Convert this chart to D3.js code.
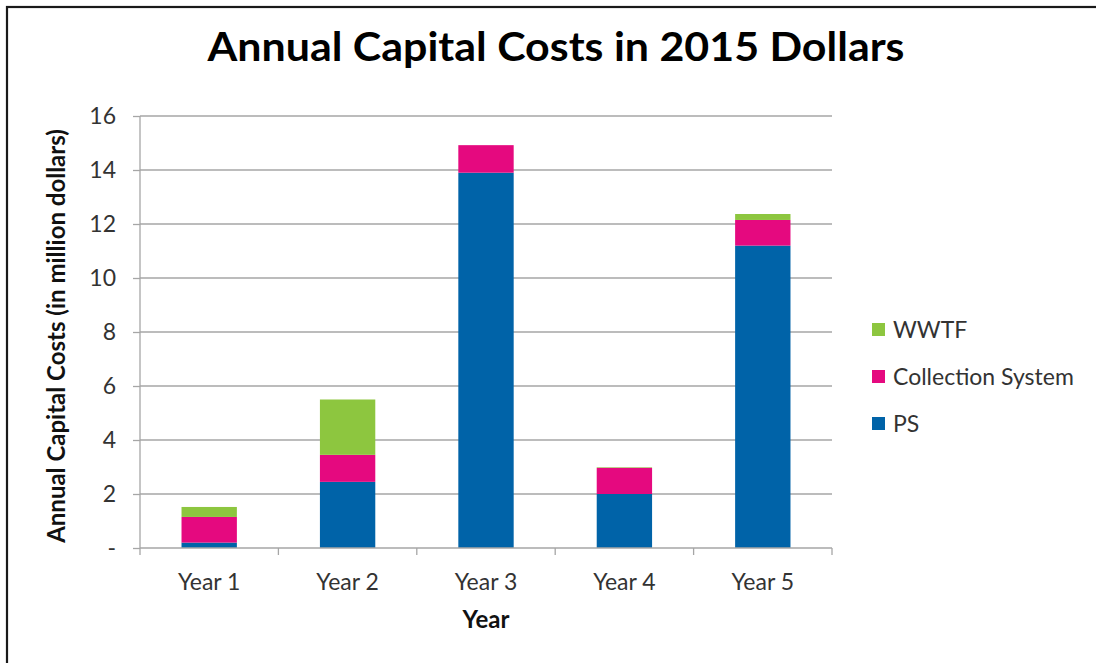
<!DOCTYPE html>
<html>
<head>
<meta charset="utf-8">
<script src="https://cdn.jsdelivr.net/npm/d3@7"></script>
<style>
  html, body { margin: 0; padding: 0; background: #fff; }
  svg { display: block; }
</style>
</head>
<body>
<svg id="chart" width="1096" height="663"></svg>
<script>
// Annual capital costs (million dollars, 2015 dollars), stacked by component
const years = ["Year 1", "Year 2", "Year 3", "Year 4", "Year 5"];
const psCosts = [0.2, 2.45, 13.9, 2.0, 11.2];
const collectionCosts = [0.95, 1.0, 1.02, 0.97, 0.95];
const wwtfCosts = [0.37, 2.05, 0.0, 0.02, 0.22];
const seriesNames = ["PS", "Collection System", "WWTF"];
const seriesColors = ["#0063A8", "#E5097F", "#8DC63F"];
const yTicks = [0, 2, 4, 6, 8, 10, 12, 14, 16];

const font = "Lato, 'Open Sans', sans-serif";
const svg = d3.select("#chart");

// outer frame
svg.append("rect")
  .attr("x", 7).attr("y", 7)
  .attr("width", 1200).attr("height", 800)
  .attr("fill", "none").attr("stroke", "#1a1a1a").attr("stroke-width", 2.2);

const margin = { left: 140, top: 116, right: 832, bottom: 548 };

const x = d3.scaleBand().domain(years)
  .range([margin.left, margin.right]).paddingInner(0.6).paddingOuter(0.3);
const y = d3.scaleLinear().domain([0, 16]).range([margin.bottom, margin.top]);

// gridlines
svg.append("g").selectAll("line").data(yTicks.slice(1)).join("line")
  .attr("x1", margin.left).attr("x2", margin.right)
  .attr("y1", d => y(d)).attr("y2", d => y(d))
  .attr("stroke", "#a6a6a6").attr("stroke-width", 1.3);

// stacked bars
const rows = years.map((yr, i) => ({ year: yr, "PS": psCosts[i], "Collection System": collectionCosts[i], "WWTF": wwtfCosts[i] }));
const stack = d3.stack().keys(seriesNames)(rows);
svg.append("g").selectAll("g").data(stack).join("g")
  .attr("fill", (d, i) => seriesColors[i])
  .selectAll("rect").data(d => d).join("rect")
  .attr("x", d => x(d.data.year))
  .attr("width", x.bandwidth())
  .attr("y", d => y(d[1]))
  .attr("height", d => y(d[0]) - y(d[1]));

// y axis
const yAxis = d3.axisLeft(y).tickValues(yTicks)
  .tickFormat(d => d === 0 ? "-" : d).tickSize(7).tickPadding(17);
const gy = svg.append("g").attr("transform", `translate(${margin.left},0)`).call(yAxis);
gy.select(".domain").attr("stroke", "#a6a6a6").attr("stroke-width", 1.3)
  .attr("d", `M0,${margin.top}V${margin.bottom}`);
gy.selectAll(".tick line").attr("stroke", "#a6a6a6").attr("stroke-width", 1.3);
gy.selectAll(".tick text").attr("font-family", font).attr("font-size", 23).attr("fill", "#333");

// x axis with ticks at category boundaries
const gx = svg.append("g").attr("transform", `translate(0,${margin.bottom})`);
gx.append("line").attr("x1", margin.left).attr("x2", margin.right)
  .attr("stroke", "#a6a6a6").attr("stroke-width", 1.3);
const bounds = d3.range(years.length + 1).map(i => margin.left + i * (margin.right - margin.left) / years.length);
gx.selectAll("line.b").data(bounds).join("line").attr("class", "b")
  .attr("x1", d => d).attr("x2", d => d).attr("y1", 0).attr("y2", 7)
  .attr("stroke", "#a6a6a6").attr("stroke-width", 1.3);
gx.selectAll("text").data(years).join("text")
  .attr("x", d => x(d) + x.bandwidth() / 2).attr("y", 42)
  .attr("text-anchor", "middle")
  .attr("font-family", font).attr("font-size", 23).attr("fill", "#333")
  .text(d => d);

// axis titles
svg.append("text").attr("x", 486).attr("y", 628).attr("text-anchor", "middle")
  .attr("font-family", font).attr("font-size", 24).attr("font-weight", "bold").attr("fill", "#111")
  .text("Year");
svg.append("text").attr("transform", `translate(65,336) rotate(-90)`).attr("text-anchor", "middle")
  .attr("font-family", font).attr("font-size", 24).attr("font-weight", "bold").attr("fill", "#111")
  .text("Annual Capital Costs (in million dollars)");

// title
svg.append("text").attr("x", 556).attr("y", 61).attr("text-anchor", "middle")
  .attr("font-family", font).attr("font-size", 40).attr("font-weight", "bold").attr("fill", "#000")
  .attr("textLength", 697).attr("lengthAdjust", "spacingAndGlyphs")
  .text("Annual Capital Costs in 2015 Dollars");

// legend (top to bottom: WWTF, Collection System, PS)
const legendOrder = [2, 1, 0];
const lg = svg.append("g").selectAll("g").data(legendOrder).join("g")
  .attr("transform", (d, i) => `translate(872,${330 + i * 47})`);
lg.append("rect").attr("x", 0).attr("y", -7).attr("width", 13).attr("height", 13)
  .attr("fill", d => seriesColors[d]);
lg.append("text").attr("x", 21).attr("y", 8)
  .attr("font-family", font).attr("font-size", 23).attr("fill", "#333")
  .text(d => seriesNames[d]);
</script>
</body>
</html>
